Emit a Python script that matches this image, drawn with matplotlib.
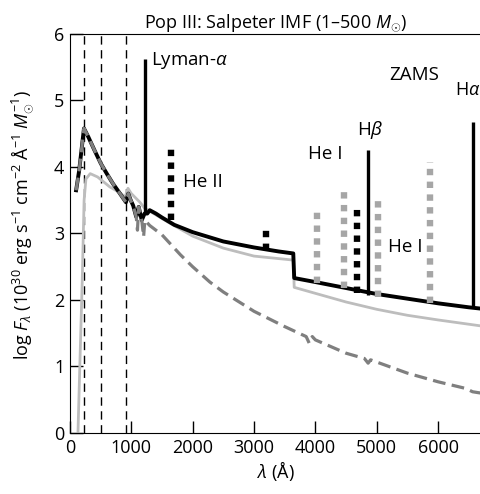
import numpy as np
import matplotlib
matplotlib.use("Agg")
import matplotlib.pyplot as plt

plt.rcParams['font.family'] = ['Open Sans', 'DejaVu Sans']
plt.rcParams['mathtext.fontset'] = 'custom'
plt.rcParams['mathtext.rm'] = 'Open Sans'
plt.rcParams['mathtext.it'] = 'Open Sans:italic'

# total ZAMS spectrum (stars + nebula), continuum only
wl_tot = [100, 150, 228, 300, 400, 504, 600, 700, 800, 912, 950, 990, 1030, 1080, 1120,
          1170, 1216, 1260, 1300, 1400, 1500, 1700, 2000, 2500, 3000, 3400, 3640,
          3655, 4000, 4500, 5000, 5500, 6000, 6500, 6700]
f_tot = [3.65, 3.95, 4.58, 4.45, 4.25, 4.05, 3.9, 3.75, 3.62, 3.47, 3.6, 3.5, 3.42, 3.25, 3.4,
         3.2, 3.3, 3.3, 3.35, 3.3, 3.24, 3.13, 3.02, 2.88, 2.79, 2.73, 2.7,
         2.33, 2.27, 2.18, 2.09, 2.02, 1.95, 1.89, 1.87]

# pure stellar continuum (dashed)
wl_star = [100, 150, 228, 300, 400, 504, 600, 700, 800, 912, 950, 990, 1030, 1080, 1100,
           1120, 1170, 1200, 1220, 1300, 1500, 1800, 2000, 2280, 2500, 3000, 3500,
           3850, 3900, 3950, 4000, 4500, 4800, 4860, 4900, 5500, 6000, 6450, 6563, 6700]
f_star = [3.65, 3.95, 4.58, 4.45, 4.25, 4.05, 3.9, 3.75, 3.62, 3.47, 3.6, 3.5, 3.42, 3.25, 3.05,
          3.4, 3.2, 2.95, 3.2, 3.12, 2.98, 2.68, 2.5, 2.27, 2.12, 1.83, 1.6,
          1.45, 1.35, 1.45, 1.4, 1.2, 1.12, 1.05, 1.1, 0.9, 0.77, 0.67, 0.62, 0.6]

# second (lower) spectrum, light grey
wl_grey = [130, 160, 200, 230, 260, 330, 450, 650, 800, 900, 945, 1000, 1140, 1216, 1400,
           1600, 2000, 2500, 3000, 3640, 3655, 4000, 4500, 5000, 5500, 6000, 6700]
f_grey = [0.0, 1.0, 2.3, 3.5, 3.82, 3.9, 3.85, 3.7, 3.62, 3.55, 3.68, 3.6, 3.47, 3.38, 3.28,
          3.17, 2.96, 2.78, 2.66, 2.6, 2.19, 2.1, 1.97, 1.86, 1.77, 1.7, 1.61]

# ionisation edges (He II, He I, H I)
edges = [228, 504, 912]

# hydrogen lines: wavelength, bottom, top
h_wl = [1216, 4861, 6563]
h_lo = [3.3, 2.08, 1.88]
h_hi = [5.62, 4.26, 4.67]

# He II lines (black dotted)
he2_wl = [1640, 3203, 4686]
he2_lo = [3.2, 2.75, 2.1]
he2_hi = [4.32, 3.1, 3.4]

# He I lines (grey dotted)
he1_wl = [4026, 4471, 5016, 5876]
he1_lo = [2.25, 2.18, 2.05, 1.95]
he1_hi = [3.35, 3.67, 3.5, 4.08]

fig = plt.figure(figsize=(4.81, 4.94), dpi=100)
ax = fig.add_axes([0.1455, 0.1235, 0.8545, 0.8077])

for e in edges:
    ax.axvline(e, color='black', lw=1.0, ls=(0, (6, 4)), zorder=1)

ax.plot(wl_grey, f_grey, color='#bdbdbd', lw=2.0, zorder=2)
ax.plot(wl_tot, f_tot, color='black', lw=2.8, zorder=3, solid_joinstyle='round')
ax.plot(wl_star, f_star, color='#7f7f7f', lw=2.3, ls=(0, (4, 2)), zorder=4)

ax.vlines(h_wl, h_lo, h_hi, color='black', lw=2.4, zorder=5)
ax.vlines(he2_wl, he2_lo, he2_hi, color='black', lw=4.6, linestyles=[(0, (1.0, 1.0))], zorder=5)
ax.vlines(he1_wl, he1_lo, he1_hi, color='#a6a6a6', lw=4.6, linestyles=[(0, (1.0, 1.0))], zorder=5)

fs = 13.5
ax.text(1320, 5.6, r'Lyman-$\alpha$', fontsize=fs, va='center')
ax.text(1850, 3.77, 'He II', fontsize=fs, va='center')
ax.text(3880, 4.2, 'He I', fontsize=fs, va='center')
ax.text(4680, 4.55, r'H$\beta$', fontsize=fs, va='center')
ax.text(6270, 5.16, r'H$\alpha$', fontsize=13, va='center')
ax.text(5200, 5.38, 'ZAMS', fontsize=fs, va='center')
ax.text(5180, 2.8, 'He I', fontsize=fs, va='center')

ax.set_xlim(0, 6700)
ax.set_ylim(0, 6)
ax.set_xticks([0, 1000, 2000, 3000, 4000, 5000, 6000])
ax.set_yticks([0, 1, 2, 3, 4, 5, 6])
ax.tick_params(direction='in', length=9, width=1, labelsize=13, pad=4)
ax.spines['right'].set_visible(False)
ax.set_title(r'Pop III: Salpeter IMF (1–500 $M_{\odot}$)', fontsize=13, pad=4)
ax.set_xlabel(r'$\lambda$ (Å)', fontsize=13, labelpad=2)
ax.set_ylabel(r'log $F_\lambda$ (10$^{30}$ erg s$^{-1}$ cm$^{-2}$ Å$^{-1}$ $M_{\odot}^{-1}$)',
              fontsize=13)
ax.yaxis.set_label_coords(-0.085, 0.52)

fig.savefig('out.png', dpi=100)
